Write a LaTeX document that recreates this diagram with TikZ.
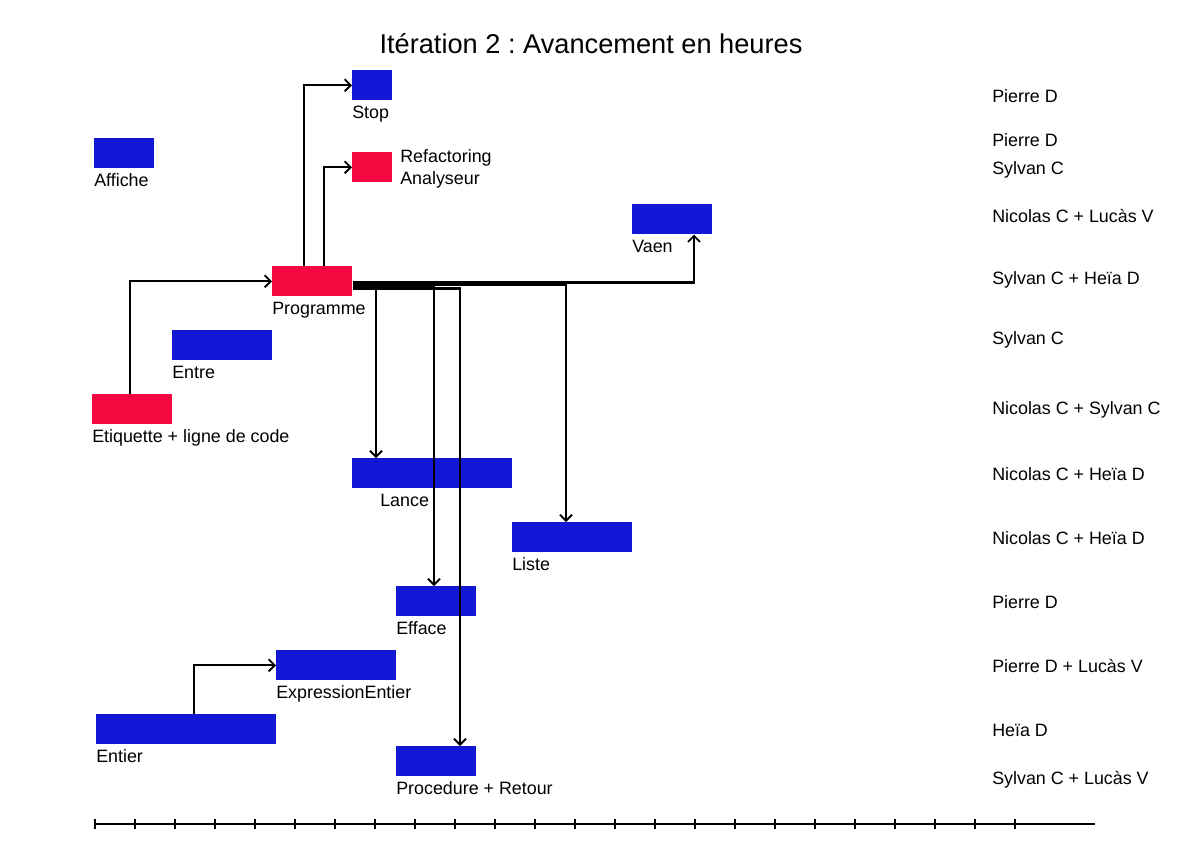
\documentclass[tikz,border=0pt]{standalone}
\usepackage{fontspec}
\setmainfont{Liberation Sans}
\usetikzlibrary{arrows.meta,calc}
\definecolor{barblue}{RGB}{19,23,214}
\definecolor{barred}{RGB}{245,7,64}
\frenchspacing
\begin{document}
\begin{tikzpicture}[x=0.75pt,y=-0.75pt,
  bar/.style={draw=none,inner sep=0pt,minimum height=22.5pt,anchor=north west},
  bluebar/.style={bar,fill=barblue},
  redbar/.style={bar,fill=barred},
  lbl/.style={inner sep=0pt,anchor=base west,font=\fontsize{13.4}{16}\selectfont},
  who/.style={lbl},
  conn/.style={line width=1.6pt,-{Straight Barb[length=4.5pt,width=9pt,line width=1.4pt]}},
  axisline/.style={line width=1.8pt}
]
\useasboundingbox (0,0) rectangle (1190,840);
% title
\node[inner sep=0pt,anchor=base,font=\fontsize{20.4}{24}\selectfont] (title) at (591,53) {Itération 2 : Avancement en heures};

% bars
\node[bluebar,minimum width=30pt] (stop) at (352,70) {};
\node[lbl] (stopl) at (352,118) {Stop};
\node[bluebar,minimum width=45pt] (aff) at (94,138) {};
\node[lbl] (affl) at (94,186) {Affiche};
\node[redbar,minimum width=30pt] (refac) at (352,152) {};
\node[lbl] (refacl1) at (400,162) {Refactoring};
\node[lbl] (refacl2) at (400,184) {Analyseur};
\node[bluebar,minimum width=60pt] (vaen) at (632,204) {};
\node[lbl] (vaenl) at (632,252) {Vaen};
\node[redbar,minimum width=60pt] (prog) at (272,266) {};
\node[lbl] (progl) at (272,314) {Programme};
\node[bluebar,minimum width=75pt] (entre) at (172,330) {};
\node[lbl] (entrel) at (172,378) {Entre};
\node[redbar,minimum width=60pt] (etiq) at (92,394) {};
\node[lbl] (etiql) at (92,442) {Etiquette + ligne de code};
\node[bluebar,minimum width=120pt] (lance) at (352,458) {};
\node[lbl] (lancel) at (380,506) {Lance};
\node[bluebar,minimum width=90pt] (liste) at (512,522) {};
\node[lbl] (listel) at (512,570) {Liste};
\node[bluebar,minimum width=60pt] (efface) at (396,586) {};
\node[lbl] (effacel) at (396,634) {Efface};
\node[bluebar,minimum width=90pt] (expr) at (276,650) {};
\node[lbl] (exprl) at (276,698) {ExpressionEntier};
\node[bluebar,minimum width=135pt] (entier) at (96,714) {};
\node[lbl] (entierl) at (96,762) {Entier};
\node[bluebar,minimum width=60pt] (proc) at (396,746) {};
\node[lbl] (procl) at (396,794) {Procedure + Retour};

% people
\node[who] (w1) at (992,102) {Pierre D};
\node[who] (w2) at (992,146) {Pierre D};
\node[who] (w3) at (992,174) {Sylvan C};
\node[who] (w4) at (992,222) {Nicolas C + Lucàs V};
\node[who] (w5) at (992,284) {Sylvan C + Heïa D};
\node[who] (w6) at (992,344) {Sylvan C};
\node[who] (w7) at (992,414) {Nicolas C + Sylvan C};
\node[who] (w8) at (992,480) {Nicolas C + Heïa D};
\node[who] (w9) at (992,544) {Nicolas C + Heïa D};
\node[who] (w10) at (992,608) {Pierre D};
\node[who] (w11) at (992,672) {Pierre D + Lucàs V};
\node[who] (w12) at (992,736) {Heïa D};
\node[who] (w13) at (992,784) {Sylvan C + Lucàs V};

% connectors
\draw[conn] ($(etiq.north west)+(38,0)$) |- (prog.west);
\draw[conn] ($(prog.north west)+(32,0)$) |- (stop.west);
\draw[conn] ($(prog.north west)+(52,0)$) |- (refac.west);
\draw[conn] ($(prog.south east)+(0,-14)$) -| ($(vaen.south west)+(62,0)$);
\draw[conn] ($(prog.south east)+(0,-13)$) -| ($(lance.north west)+(24,0)$);
\draw[conn] ($(prog.south east)+(0,-12)$) -| ($(liste.north west)+(54,0)$);
\draw[conn] ($(prog.south east)+(0,-11)$) -| ($(efface.north west)+(38,0)$);
\draw[conn] ($(prog.south east)+(0,-8)$) -| ($(proc.north west)+(64,0)$);
\draw[conn] ($(entier.north west)+(98,0)$) |- (expr.west);

% axis
\coordinate (axs) at (95,824);
\coordinate (axe) at (1095,824);
\draw[axisline] (axs) -- (axe);
\foreach \k in {0,...,23} {
  \draw[line width=1.4pt] ($(axs)+(40*\k,-5)$) -- ($(axs)+(40*\k,5)$);
}
\end{tikzpicture}
\end{document}
